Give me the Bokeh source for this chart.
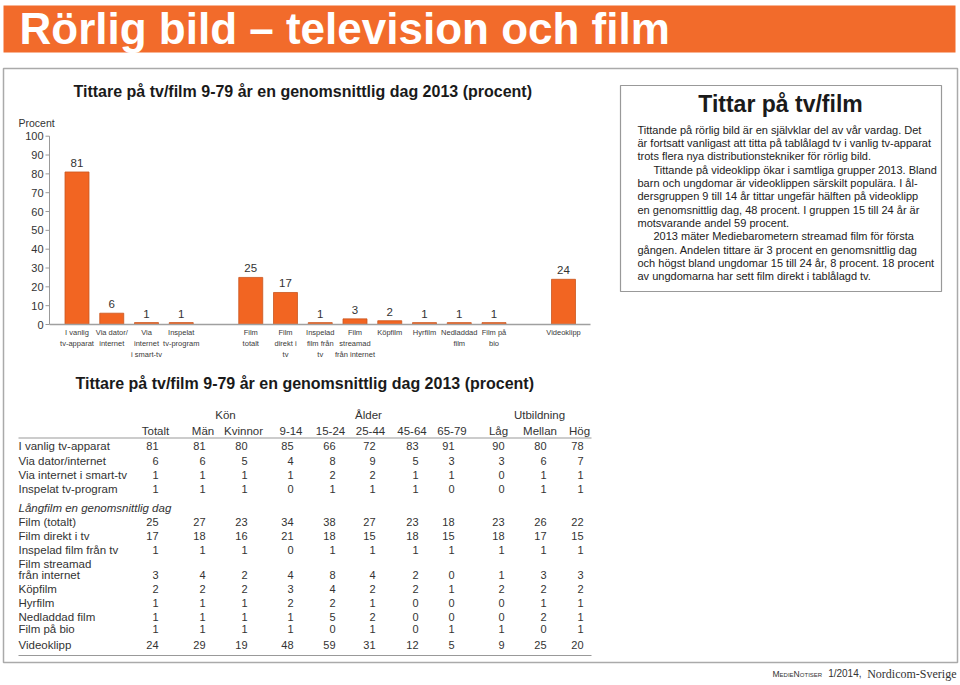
from bokeh.plotting import figure
from bokeh.models import Range1d
from bokeh.core.properties import value
from bokeh.embed import file_html
from bokeh.resources import INLINE

# ---------------- data ----------------
page_title = "Rörlig bild – television och film"
chart_title = "Tittare på tv/film 9-79 år en genomsnittlig dag 2013 (procent)"

bar_labels = ["I vanlig\ntv-apparat", "Via dator/\ninternet", "Via\ninternet\ni smart-tv",
              "Inspelat\ntv-program", "Film\ntotalt", "Film\ndirekt i\ntv",
              "Inspelad\nfilm från\ntv", "Film\nstreamad\nfrån internet", "Köpfilm",
              "Hyrfilm", "Nedladdad\nfilm", "Film på\nbio", "Videoklipp"]
bar_values = [81, 6, 1, 1, 25, 17, 1, 3, 2, 1, 1, 1, 24]
bar_groups = [4, 8, 1]
y_ticks = [0, 10, 20, 30, 40, 50, 60, 70, 80, 90, 100]

table_groups = ["Kön", "Ålder", "Utbildning"]
table_columns = ["Totalt", "Män", "Kvinnor", "9-14", "15-24", "25-44", "45-64",
                 "65-79", "Låg", "Mellan", "Hög"]

tv_apparat = [81, 81, 80, 85, 66, 72, 83, 91, 90, 80, 78]
dator_internet = [6, 6, 5, 4, 8, 9, 5, 3, 3, 6, 7]
smart_tv = [1, 1, 1, 1, 2, 2, 1, 1, 0, 1, 1]
inspelat_tv = [1, 1, 1, 0, 1, 1, 1, 0, 0, 1, 1]
film_totalt = [25, 27, 23, 34, 38, 27, 23, 18, 23, 26, 22]
film_direkt = [17, 18, 16, 21, 18, 15, 18, 15, 18, 17, 15]
inspelad_film = [1, 1, 1, 0, 1, 1, 1, 1, 1, 1, 1]
film_streamad = [3, 4, 2, 4, 8, 4, 2, 0, 1, 3, 3]
kopfilm = [2, 2, 2, 3, 4, 2, 2, 1, 2, 2, 2]
hyrfilm = [1, 1, 1, 2, 2, 1, 0, 0, 0, 1, 1]
nedladdad = [1, 1, 1, 1, 5, 2, 0, 0, 0, 2, 1]
film_bio = [1, 1, 1, 1, 0, 1, 0, 1, 1, 0, 1]
videoklipp = [24, 29, 19, 48, 59, 31, 12, 5, 9, 25, 20]

table_rows = [
    ("I vanlig tv-apparat", tv_apparat),
    ("Via dator/internet", dator_internet),
    ("Via internet i smart-tv", smart_tv),
    ("Inspelat tv-program", inspelat_tv),
    ("Film (totalt)", film_totalt),
    ("Film direkt i tv", film_direkt),
    ("Inspelad film från tv", inspelad_film),
    ("Film streamad\nfrån internet", film_streamad),
    ("Köpfilm", kopfilm),
    ("Hyrfilm", hyrfilm),
    ("Nedladdad film", nedladdad),
    ("Film på bio", film_bio),
    ("Videoklipp", videoklipp),
]
section_label = "Långfilm en genomsnittlig dag"

box_title = "Tittar på tv/film"
box_lines = [
    "Tittande på rörlig bild är en självklar del av vår vardag. Det",
    "är fortsatt vanligast att titta på tablålagd tv i vanlig tv-apparat",
    "trots flera nya distributionstekniker för rörlig bild.",
    "Tittande på videoklipp ökar i samtliga grupper 2013. Bland",
    "barn och ungdomar är videoklippen särskilt populära. I ål-",
    "dersgruppen 9 till 14 år tittar ungefär hälften på videoklipp",
    "en genomsnittlig dag, 48 procent. I gruppen 15 till 24 år är",
    "motsvarande andel 59 procent.",
    "2013 mäter Mediebarometern streamad film för första",
    "gången. Andelen tittare är 3 procent en genomsnittlig dag",
    "och högst bland ungdomar 15 till 24 år, 8 procent. 18 procent",
    "av ungdomarna har sett film direkt i tablålagd tv.",
]
box_indent = [False, False, False, True, False, False, False, False, True, False, False, False]

# ---------------- layout / style ----------------
W, H = 960, 685
SANS = "Liberation Sans"
ORANGE = "#F26522"
BANNER = "#F26B2B"
TXT = "#333333"

X0, DX = 76.5, 34.75     # pixel centre of slot 0, pixels per slot
Y0, DY = 324.0, 1.883    # pixel of value 0, pixels per percent

p = figure(width=W, height=H, x_range=Range1d(0, W), y_range=Range1d(H, 0),
           toolbar_location=None, output_backend="svg",
           x_axis_location=None, y_axis_location=None, min_border=0)
p.grid.visible = False
p.outline_line_color = None
p.background_fill_color = "white"
p.border_fill_color = "white"
p.extra_x_ranges = {"bx": Range1d(start=(0 - X0) / DX, end=(W - X0) / DX)}
p.extra_y_ranges = {"by": Range1d(start=(Y0 - H) / DY, end=Y0 / DY)}


def txt(x, y, s, size, color=TXT, align="left", baseline="middle", style="normal",
        font=SANS, **kw):
    p.text(x=x if isinstance(x, list) else [x], y=y if isinstance(y, list) else [y],
           text=s if isinstance(s, list) else [s],
           text_font=value(font), text_font_size=f"{size}px", text_color=color,
           text_align=align, text_baseline=baseline, text_font_style=style, **kw)


# banner
p.quad(left=[3], right=[955], top=[5], bottom=[52], fill_color=BANNER, line_color=None)
txt(19, 28, page_title, 44, color="white", style="bold")

# outer frame and text box
p.quad(left=[3], right=[957], top=[68], bottom=[662], fill_color=None,
       line_color="#AAAAAA", line_width=1.5)
p.quad(left=[620], right=[941], top=[85], bottom=[291], fill_color=None,
       line_color="#999999", line_width=1.2)

# ---------------- bar chart ----------------
txt(73, 91, chart_title, 16, color="#1a1a1a", style="bold")

slots = []
s = 0
for n in bar_groups:
    for _ in range(n):
        slots.append(s)
        s += 1
    s += 1

AX = 49
p.segment(x0=[AX], y0=[0], x1=[AX], y1=[y_ticks[-1]], y_range_name="by",
          line_color="#999999", line_width=1)
p.segment(x0=[AX - 4] * len(y_ticks), y0=y_ticks, x1=[AX] * len(y_ticks), y1=y_ticks,
          y_range_name="by", line_color="#999999", line_width=1)
txt([AX - 6] * len(y_ticks), y_ticks, [str(t) for t in y_ticks], 11, align="right",
    y_range_name="by")
txt(18, 122, "Procent", 10.5)

p.vbar(x=slots, top=bar_values, bottom=0, width=0.69, x_range_name="bx",
       y_range_name="by", fill_color=ORANGE, line_color="#C9561E", line_width=0.8)
p.segment(x0=[AX], y0=[0], x1=[590], y1=[0], y_range_name="by",
          line_color="#A0A0A0", line_width=1.6)
txt(slots, bar_values, [str(v) for v in bar_values], 11.5, align="center",
    x_range_name="bx", y_range_name="by", y_offset=-9)
txt(slots, [-2.1] * len(slots), bar_labels, 7.5, color="#3a3a3a", align="center",
    baseline="top", x_range_name="bx", y_range_name="by", text_line_height=1.2)

# ---------------- text box ----------------
txt(780, 103, box_title, 23, color="#1a1a1a", align="center", style="bold")
for i, line in enumerate(box_lines):
    txt(653 if box_indent[i] else 637, 129 + i * 13.35, line, 11, color="#222222")

# ---------------- table ----------------
txt(75, 383, chart_title, 16, color="#1a1a1a", style="bold")
group_x = [225, 368, 539]
txt(group_x, [414] * 3, table_groups, 11.5, align="center")
col_center = [155, 202.5, 243, 290.5, 330, 370, 411.5, 451.5, 498, 539.5, 579]
col_right = [158, 205, 247, 293, 335, 375, 418, 454, 504, 546, 583]
txt(col_center, [430] * len(table_columns), table_columns, 11.5, align="center")
p.segment(x0=[18], y0=[437.5], x1=[591], y1=[437.5], line_color="#999999", line_width=1)

row_y = [445, 460, 474, 488, 521, 535, 549, 574, 588, 602, 616, 628, 644]
txt(18, 507, section_label, 11.5, style="italic")
for (label, vals), y in zip(table_rows, row_y):
    parts = label.split("\n")
    for k, part in enumerate(parts):
        txt(18, y - (len(parts) - 1 - k) * 11, part, 11.5)
    txt(col_right, [y] * len(vals), [str(v) for v in vals], 11, align="right")
p.segment(x0=[18], y0=[655], x1=[591], y1=[655], line_color="#999999", line_width=1)

# ---------------- footer ----------------
fx = 772
txt(fx, 673.5, "M", 8.5)
txt(fx + 7.1, 674.3, "EDIE", 6)
txt(fx + 21.1, 673.5, "N", 8.5)
txt(fx + 27.3, 674.3, "OTISER", 6)
txt(861, 673, "1/2014,", 10, align="right")
txt(956, 673, "Nordicom-Sverige", 12, align="right", font="Liberation Serif")

open("out.html", "w").write(file_html(p, INLINE))
